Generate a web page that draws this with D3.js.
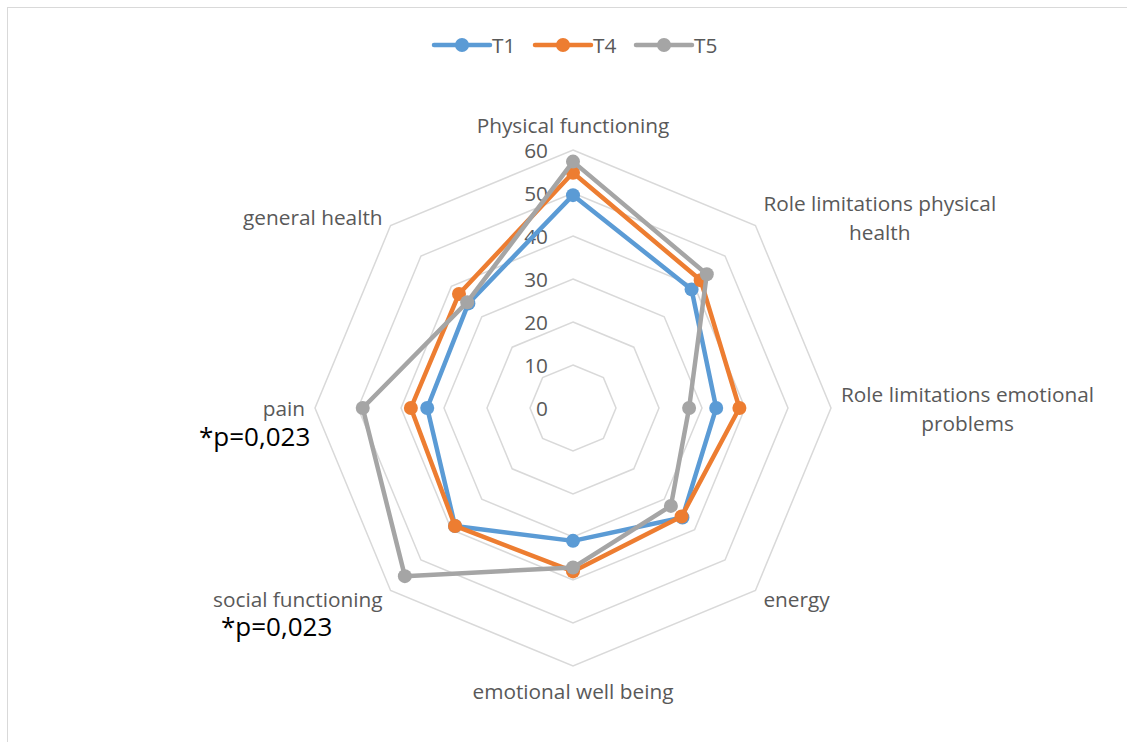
<!DOCTYPE html>
<html><head><meta charset="utf-8">
<script src="https://cdn.jsdelivr.net/npm/d3@7"></script>
<style>
html,body{margin:0;padding:0;background:#fff;}
svg{display:block;}
text{font-family:"Open Sans", Lato, sans-serif;}
</style></head>
<body><svg id="chart" width="1127" height="742"></svg>
<script>
const categories = [
  ["Physical functioning"],
  ["Role limitations physical", "health"],
  ["Role limitations emotional", "problems"],
  ["energy"],
  ["emotional well being"],
  ["social functioning"],
  ["pain"],
  ["general health"]
];
const seriesNames = ["T1", "T4", "T5"];
const seriesColors = ["#5B9BD5", "#ED7D31", "#A5A5A5"];
const t1 = [49.5, 39, 33.3, 36, 30.9, 38.8, 33.9, 34.4];
const t4 = [54.7, 42, 38.7, 35.7, 38, 38.8, 37.7, 37.5];
const t5 = [57.3, 44, 27, 32.2, 37.1, 55.3, 48.9, 34.8];
const tickValues = [0, 10, 20, 30, 40, 50, 60];
const annotations = [{text: "*p=0,023", x: 199, y: 446}, {text: "*p=0,023", x: 221, y: 636}];

const allSeries = [t1, t4, t5];
const svg = d3.select("#chart");
const W = 1127, H = 742;
const cx = 573, cy = 408, R = 258;
const FS = 20.8;

svg.append("rect").attr("x", 7.5).attr("y", 7.5).attr("width", W).attr("height", H)
  .attr("fill", "#fff").attr("stroke", "#d9d9d9").attr("stroke-width", 1);

const r = d3.scaleLinear().domain([0, 60]).range([0, R]);
const n = categories.length;
const ang = d3.scaleLinear().domain([0, n]).range([0, 2 * Math.PI]);
const pt = (i, v) => [cx + r(v) * Math.sin(ang(i)), cy - r(v) * Math.cos(ang(i))];

// grid rings
const g = svg.append("g");
tickValues.filter(v => v > 0).forEach(v => {
  const pts = d3.range(n).map(i => pt(i, v));
  g.append("path").attr("d", d3.line()(pts) + "Z")
    .attr("fill", "none").attr("stroke", "#d9d9d9").attr("stroke-width", 1.5);
});

// tick labels
svg.append("g").selectAll("text").data(tickValues).join("text")
  .attr("x", cx - 25).attr("y", d => cy - r(d))
  .attr("text-anchor", "end").attr("dominant-baseline", "central")
  .attr("fill", "#595959").attr("font-size", FS).text(d => d);

// category labels
const lab = svg.append("g");
categories.forEach((lines, i) => {
  const a = ang(i);
  const s = Math.sin(a), c = Math.cos(a);
  const [vx, vy] = pt(i, 60);
  let x = vx, y = vy, anchor = "middle";
  if (Math.abs(s) < 0.01) { y = vy - c * 25; }
  else if (Math.abs(c) < 0.01) { x = vx + s * 10; anchor = s > 0 ? "start" : "end"; }
  else { x = vx + Math.sign(s) * 8; y = vy - Math.sign(c) * 8.5; anchor = s > 0 ? "start" : "end"; }
  const lh = 29;
  const gg = lab.append("g");
  const texts = lines.map((t, k) => gg.append("text")
    .attr("y", y + (k - (lines.length - 1) / 2) * lh)
    .attr("dominant-baseline", "central")
    .attr("fill", "#595959").attr("font-size", FS).text(t));
  if (lines.length > 1) {
    const maxW = d3.max(texts, t => t.node().getComputedTextLength());
    const mid = anchor === "start" ? x + maxW / 2 : anchor === "end" ? x - maxW / 2 : x;
    texts.forEach(t => t.attr("x", mid).attr("text-anchor", "middle"));
  } else {
    texts.forEach(t => t.attr("x", x).attr("text-anchor", anchor));
  }
});

// series
allSeries.forEach((vals, si) => {
  const pts = vals.map((v, i) => pt(i, v));
  const sg = svg.append("g");
  sg.append("path").attr("d", d3.line()(pts) + "Z").attr("fill", "none")
    .attr("stroke", seriesColors[si]).attr("stroke-width", 4.5).attr("stroke-linejoin", "round");
  sg.selectAll("circle").data(pts).join("circle")
    .attr("cx", d => d[0]).attr("cy", d => d[1]).attr("r", 7)
    .attr("fill", seriesColors[si]);
});

// legend
const legX = [434, 535, 636];
const leg = svg.append("g");
seriesNames.forEach((name, i) => {
  const x0 = legX[i];
  leg.append("line").attr("x1", x0).attr("x2", x0 + 56).attr("y1", 45).attr("y2", 45)
    .attr("stroke", seriesColors[i]).attr("stroke-width", 4.5).attr("stroke-linecap", "round");
  leg.append("circle").attr("cx", x0 + 28).attr("cy", 45).attr("r", 7).attr("fill", seriesColors[i]);
  leg.append("text").attr("x", x0 + 58).attr("y", 45).attr("dominant-baseline", "central")
    .attr("fill", "#595959").attr("font-size", FS).text(name);
});

// annotations
svg.append("g").selectAll("text").data(annotations).join("text")
  .attr("x", d => d.x).attr("y", d => d.y).attr("fill", "#000").attr("font-size", 26)
  .text(d => d.text);
</script></body></html>
